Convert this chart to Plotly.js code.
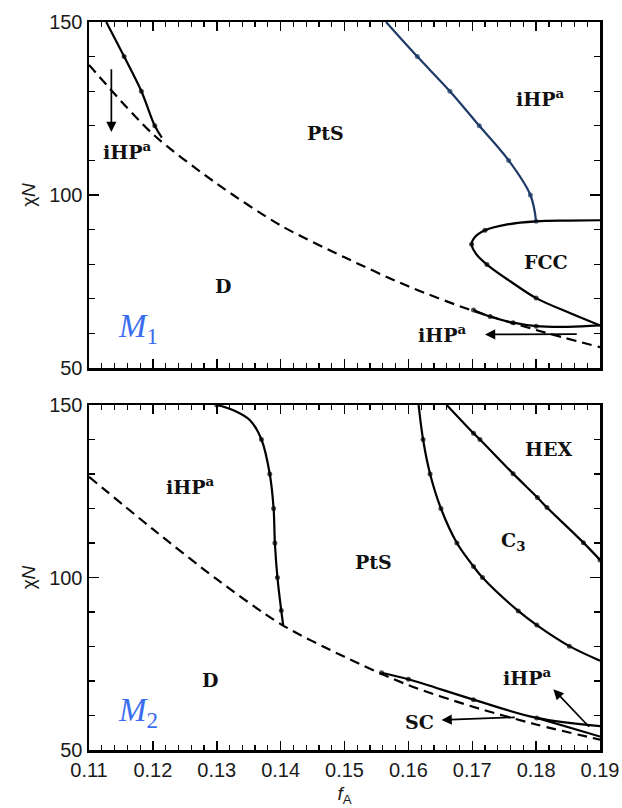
<!DOCTYPE html>
<html>
<head>
<meta charset="utf-8">
<script src="https://cdn.plot.ly/plotly-3.0.1.min.js"></script>
<style>html,body{margin:0;padding:0;background:#fff;}#chart{width:622px;height:808px;}</style>
</head>
<body>
<div id="chart"></div>
<script>
// ---------- Axis ticks ----------
const xTickVals = [0.11,0.12,0.13,0.14,0.15,0.16,0.17,0.18,0.19];
const xTickText = ['0.11','0.12','0.13','0.14','0.15','0.16','0.17','0.18','0.19'];
const yTickVals = [50,100,150];
const yTickText = ['50','100','150'];

// ---------- Panel M1 (top) ----------
const m1DisF = [0.11,0.12,0.13,0.14,0.15,0.16,0.17,0.18,0.19];
const m1DisN = [137.6,117.6,103.3,91.2,82.0,73.6,66.6,61.0,56.0];

const m1LeftF = [0.1127,0.1155,0.1182,0.1203,0.1214];
const m1LeftN = [150,140,130,120,116.6];
const m1LeftDots = [1,2,3];

const m1BlueF = [0.1565,0.1614,0.1665,0.1711,0.1757,0.1791,0.1800];
const m1BlueN = [150,140,130,120,110,100,92.4];
const m1BlueDots = [1,2,3,4,5,6];

const m1FccF = [0.19,0.185,0.18,0.1755,0.172,0.1705,0.1699,0.1706,0.1723,0.176,0.18,0.185,0.19];
const m1FccN = [92.7,92.6,92.4,91.5,89.8,88.0,85.8,83.0,79.9,75.0,70.2,66.1,62.3];
const m1FccDots = [4,6,8,10];

const m1LowF = [0.1702,0.1728,0.1764,0.18,0.185,0.19];
const m1LowN = [66.8,64.9,63.1,62.1,61.9,62.3];
const m1LowDots = [0,1,2,3];

const m1Labels = ['<b>PtS</b>','<b>iHP<sup>a</sup></b>','<b>FCC</b>','<b>iHP<sup>a</sup></b>','<b>iHP<sup>a</sup></b>','<b>D</b>'];
const m1LabelF = [0.147,0.1806,0.1815,0.1159,0.1652,0.131];
const m1LabelN = [118.0,128.0,80.6,112.6,59.8,73.8];

const m1ArrowTailF = [0.1135,0.1866];
const m1ArrowTailN = [136.8,59.8];
const m1ArrowHeadF = [0.1135,0.1720];
const m1ArrowHeadN = [118.2,59.7];

const m1Name = '<i>M</i><sub>1</sub>';
const m1NameF = 0.1177, m1NameN = 61.5;

// ---------- Panel M2 (bottom) ----------
const m2DisF = [0.11,0.12,0.13,0.14,0.15,0.16,0.17,0.18,0.19];
const m2DisN = [129.2,114.0,99.5,86.5,77.0,68.8,62.6,57.4,53.0];

const m2aF = [0.13,0.1326,0.1352,0.137,0.1383,0.1389,0.1391,0.1395,0.1401,0.1404];
const m2aN = [150,148.5,145.6,140,130,120,110,100,90.4,86.2];
const m2aDots = [0,3,4,5,6,7,8];

const m2bF = [0.1616,0.1623,0.1634,0.1651,0.1676,0.1702,0.1716,0.1772,0.1801,0.1852,0.19];
const m2bN = [150,140,130,120,110,103.2,100.0,90.3,86.2,80.1,75.9];
const m2bDots = [1,2,3,4,5,6,7,8,9];

const m2cF = [0.166,0.1702,0.1712,0.1764,0.1802,0.1817,0.1874,0.19];
const m2cN = [150,141.8,140,130.1,123.2,120.3,110.1,105.1];
const m2cDots = [1,2,3,4,5,6,7];

const m2dF = [0.1558,0.16,0.1702,0.1801,0.19];
const m2dN = [72.4,70.5,64.6,59.3,56.9];
const m2dDots = [0,1,2,3];

const m2eF = [0.1801,0.19];
const m2eN = [59.3,53.9];
const m2eDots = [];

const m2Labels = ['<b>HEX</b>','<b>C<sub>3</sub></b>','<b>PtS</b>','<b>iHP<sup>a</sup></b>','<b>D</b>','<b>iHP<sup>a</sup></b>','<b>SC</b>'];
const m2LabelF = [0.1819,0.1764,0.1545,0.1258,0.1289,0.1786,0.1618];
const m2LabelN = [137.2,110.3,104.5,126.5,70.3,71.2,58.0];

const m2ArrowTailF = [0.1769,0.1885];
const m2ArrowTailN = [59.5,56.3];
const m2ArrowHeadF = [0.1652,0.1827];
const m2ArrowHeadN = [58.7,67.6];

const m2Name = '<i>M</i><sub>2</sub>';
const m2NameF = 0.1177, m2NameN = 61.0;

// ---------- Build ----------
const LW = 2.2;
function curve(f, n, dots, xa, ya, color) {
  const sizes = f.map((_, i) => dots.indexOf(i) >= 0 ? 5 : 0);
  return {
    x: f, y: n, xaxis: xa, yaxis: ya, type: 'scatter',
    mode: 'lines+markers', hoverinfo: 'skip',
    line: {color: color || '#000', width: LW, shape: 'spline', smoothing: 1},
    marker: {color: color || '#000', size: sizes, line: {width: 0}}
  };
}
function dashed(f, n, xa, ya) {
  return {
    x: f, y: n, xaxis: xa, yaxis: ya, type: 'scatter', mode: 'lines', hoverinfo: 'skip',
    line: {color: '#000', width: LW, dash: '10px,6px', shape: 'spline', smoothing: 0.8}
  };
}

const traces = [
  dashed(m1DisF, m1DisN, 'x', 'y'),
  curve(m1LeftF, m1LeftN, m1LeftDots, 'x', 'y'),
  curve(m1BlueF, m1BlueN, m1BlueDots, 'x', 'y', '#1d3a66'),
  curve(m1FccF, m1FccN, m1FccDots, 'x', 'y'),
  curve(m1LowF, m1LowN, m1LowDots, 'x', 'y'),
  dashed(m2DisF, m2DisN, 'x2', 'y2'),
  curve(m2aF, m2aN, m2aDots, 'x2', 'y2'),
  curve(m2bF, m2bN, m2bDots, 'x2', 'y2'),
  curve(m2cF, m2cN, m2cDots, 'x2', 'y2'),
  curve(m2dF, m2dN, m2dDots, 'x2', 'y2'),
  curve(m2eF, m2eN, m2eDots, 'x2', 'y2')
];

const labelFont = {family: 'DejaVu Serif, serif', size: 19, color: '#111'};
const nameFont = {family: 'Liberation Serif, serif', size: 33, color: '#3a6df0'};
const annotations = [];
function addLabels(texts, fs, ns, xr, yr) {
  texts.forEach((t, i) => annotations.push({
    text: t, x: fs[i], y: ns[i], xref: xr, yref: yr, showarrow: false,
    font: labelFont, xanchor: 'center', yanchor: 'middle'
  }));
}
function addArrows(tf, tn, hf, hn, xr, yr) {
  tf.forEach((_, i) => annotations.push({
    text: '', x: hf[i], y: hn[i], ax: tf[i], ay: tn[i],
    xref: xr, yref: yr, axref: xr, ayref: yr,
    showarrow: true, arrowhead: 2, arrowsize: 1.2, arrowwidth: 1.7, arrowcolor: '#000',
    standoff: 0, startstandoff: 0
  }));
}
addLabels(m1Labels, m1LabelF, m1LabelN, 'x', 'y');
addLabels(m2Labels, m2LabelF, m2LabelN, 'x2', 'y2');
addArrows(m1ArrowTailF, m1ArrowTailN, m1ArrowHeadF, m1ArrowHeadN, 'x', 'y');
addArrows(m2ArrowTailF, m2ArrowTailN, m2ArrowHeadF, m2ArrowHeadN, 'x2', 'y2');
annotations.push({text: m1Name, x: m1NameF, y: m1NameN, xref: 'x', yref: 'y', showarrow: false, font: nameFont});
annotations.push({text: m2Name, x: m2NameF, y: m2NameN, xref: 'x2', yref: 'y2', showarrow: false, font: nameFont});

const tickFont = {family: 'Liberation Sans, Arial, sans-serif', size: 20, color: '#1a1a1a'};
const titleFont = {family: 'Liberation Sans, Arial, sans-serif', size: 19, color: '#1a1a1a'};

function xAxis(anchor, showLabels) {
  return {
    anchor: anchor, domain: [0, 1], range: [0.11, 0.19], fixedrange: true,
    showgrid: false, zeroline: false, showline: true, linewidth: 2.5, linecolor: '#000',
    mirror: 'ticks', ticks: 'inside', ticklen: 9, tickwidth: 1.5, tickcolor: '#000',
    tickmode: 'array', tickvals: xTickVals, ticktext: xTickText,
    showticklabels: showLabels, tickfont: tickFont,
    minor: {dtick: 0.002, tick0: 0.11, ticks: 'inside', ticklen: 5, tickwidth: 1.2, tickcolor: '#000', showgrid: false}
  };
}
function yAxis(anchor, domain, title) {
  return {
    anchor: anchor, domain: domain, range: [50, 150], fixedrange: true,
    showgrid: false, zeroline: false, showline: true, linewidth: 2.5, linecolor: '#000',
    mirror: 'ticks', ticks: 'inside', ticklen: 10, tickwidth: 1.5, tickcolor: '#000',
    tickmode: 'array', tickvals: yTickVals, ticktext: yTickText, tickfont: tickFont,
    minor: {dtick: 10, tick0: 50, ticks: 'inside', ticklen: 6, tickwidth: 1.2, tickcolor: '#000', showgrid: false},
    title: {text: title, font: titleFont, standoff: 9}
  };
}

const xa2 = xAxis('y2', true);
xa2.title = {text: '<i>f</i><sub>A</sub>', font: titleFont, standoff: 7};

const layout = {
  width: 622, height: 808,
  margin: {l: 89, r: 22, t: 22, b: 58},
  paper_bgcolor: '#fff', plot_bgcolor: '#fff',
  showlegend: false,
  xaxis: xAxis('y', false),
  yaxis: yAxis('x', [0.5247, 1], 'χ<i>N</i>'),
  xaxis2: xa2,
  yaxis2: yAxis('x2', [0, 0.4739], 'χ<i>N</i>'),
  annotations: annotations
};

Plotly.newPlot('chart', traces, layout, {staticPlot: true, displayModeBar: false});
</script>
</body>
</html>
